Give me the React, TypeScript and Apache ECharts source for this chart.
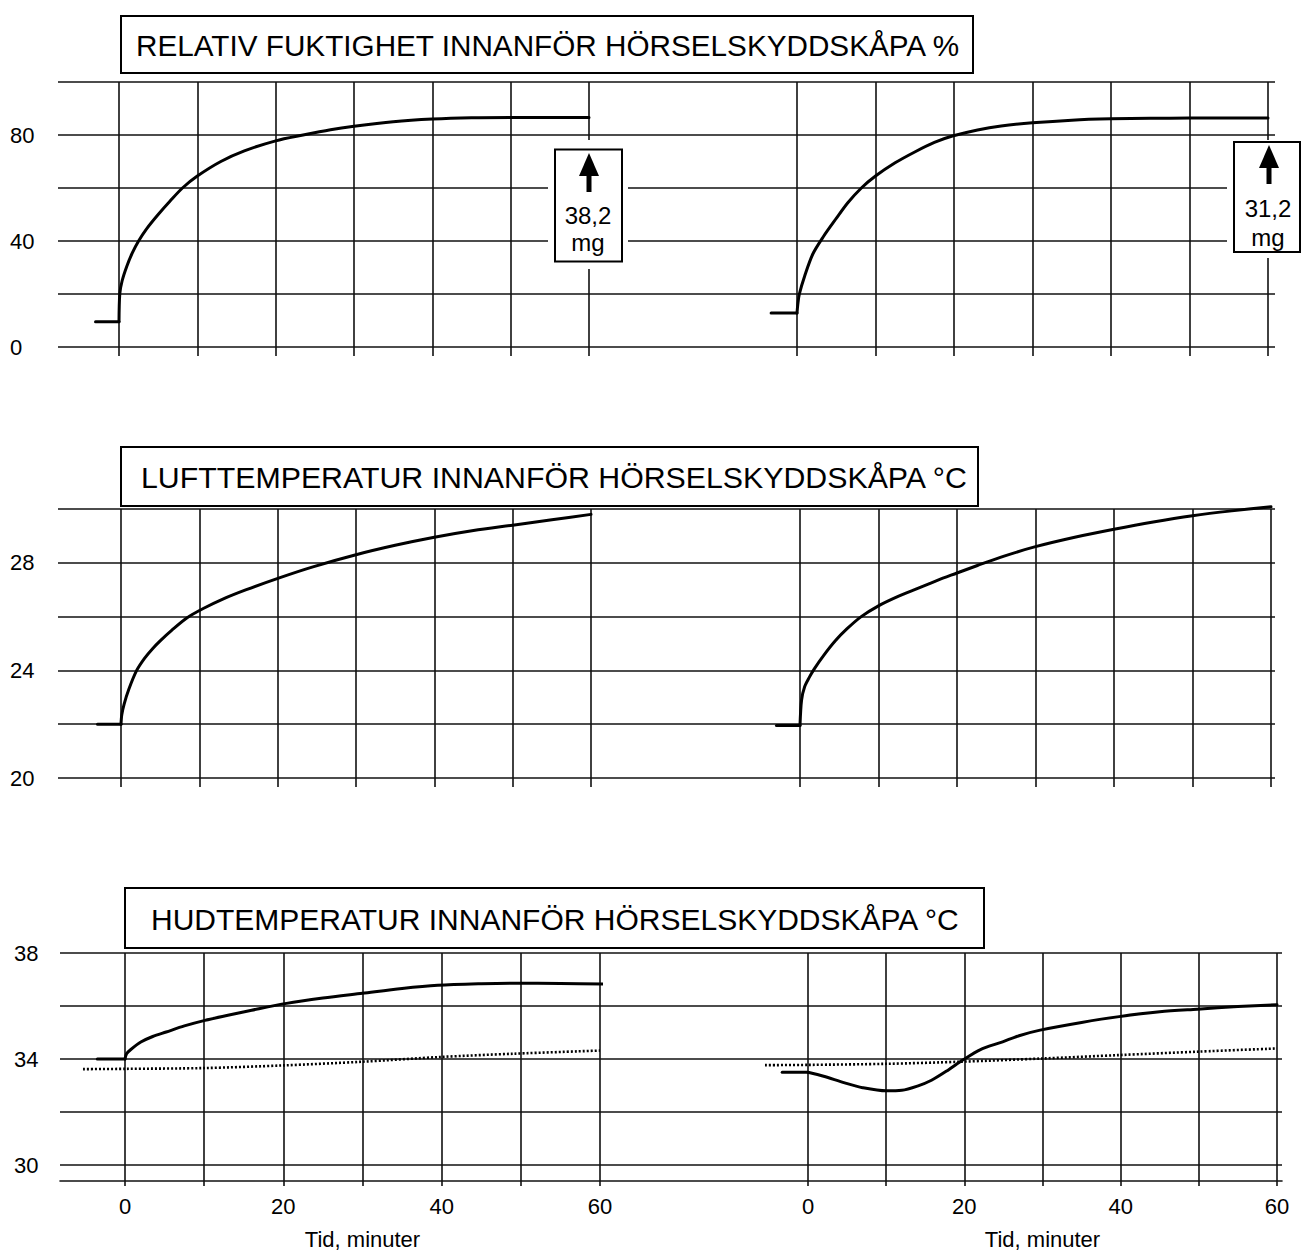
import React, { useEffect, useRef } from "react";
import * as echarts from "echarts";

// ---------- DATA ----------
const titles = [
  "RELATIV FUKTIGHET INNANFÖR HÖRSELSKYDDSKÅPA %",
  "LUFTTEMPERATUR INNANFÖR HÖRSELSKYDDSKÅPA °C",
  "HUDTEMPERATUR INNANFÖR HÖRSELSKYDDSKÅPA °C",
];
const xTicks = [0, 10, 20, 30, 40, 50, 60];
const xAxisName = "Tid, minuter";
const massLeft = ["38,2", "mg"];
const massRight = ["31,2", "mg"];

// Panel 1: relative humidity (%)
const rhLeftPreT = [-3, 0];
const rhLeftPreV = [9.5, 9.5];
const rhLeftT = [0, 0.1, 0.4, 1, 1.7, 2.5, 3.5, 5, 6.5, 8.1, 10, 13, 16, 20, 23.5, 27, 30, 35, 40, 45, 50, 55, 60];
const rhLeftV = [9.5, 20, 25, 30.5, 35.5, 40, 44.5, 50, 55, 60, 64.5, 70, 74, 77.8, 80, 82, 83.3, 85, 86, 86.5, 86.6, 86.6, 86.6];
const rhRightPreT = [-3.3, 0];
const rhRightPreV = [12.8, 12.8];
const rhRightT = [0, 0.1, 0.3, 1, 2, 3.35, 5, 6.5, 8.2, 10, 12.5, 15, 17.5, 19.8, 23, 26, 30, 35, 40, 45, 50, 55, 60];
const rhRightV = [12.8, 16, 20, 27, 35, 41.6, 48.5, 54.5, 60, 64.5, 69.5, 73.6, 77.2, 79.6, 81.9, 83.4, 84.6, 85.6, 86.1, 86.3, 86.4, 86.4, 86.4];

// Panel 2: air temperature (°C)
const airLeftPreT = [-3, 0];
const airLeftPreV = [22, 22];
const airLeftT = [0, 0.1, 0.4, 1, 2, 3, 4, 5, 6.5, 8.4, 10.5, 13, 16, 20.3, 24.5, 30, 35, 40, 45, 50, 55, 60];
const airLeftV = [22, 22.35, 22.75, 23.3, 24.0, 24.45, 24.8, 25.1, 25.5, 25.95, 26.3, 26.65, 27.0, 27.45, 27.85, 28.3, 28.65, 28.95, 29.2, 29.4, 29.6, 29.8];
const airRightPreT = [-3, 0];
const airRightPreV = [21.95, 21.95];
const airRightT = [0, 0.2, 0.6, 1.2, 1.8, 3, 4.5, 6, 7.8, 10, 12.5, 15, 17.5, 20, 22.6, 26, 30, 35, 40, 45, 50, 55, 60];
const airRightV = [21.95, 22.9, 23.4, 23.75, 24.05, 24.55, 25.1, 25.55, 26.0, 26.4, 26.75, 27.05, 27.35, 27.62, 27.9, 28.25, 28.6, 28.95, 29.25, 29.52, 29.75, 29.93, 30.08];

// Panel 3: skin temperature (°C), solid and dotted
const skinLeftPreT = [-3.5, 0];
const skinLeftPreV = [34.0, 34.0];
const skinLeftT = [0, 0.2, 0.7, 2, 3.5, 5.2, 7.5, 10.1, 13, 16, 20.4, 25, 30, 35, 39.5, 45, 49.2, 55, 60.5];
const skinLeftV = [34.0, 34.2, 34.35, 34.64, 34.85, 35.02, 35.25, 35.46, 35.65, 35.84, 36.1, 36.3, 36.48, 36.66, 36.78, 36.84, 36.86, 36.85, 36.83];
const skinLeftDotT = [-5.3, 0, 10, 20, 30, 40, 49, 60];
const skinLeftDotV = [33.62, 33.63, 33.66, 33.76, 33.9, 34.08, 34.2, 34.32];
const skinRightPreT = [-3.3, 0];
const skinRightPreV = [33.5, 33.5];
const skinRightT = [0, 2, 4.7, 7, 10, 12, 14, 15.8, 18, 19.8, 22, 24.9, 27, 29.7, 35, 39.8, 45, 49.8, 55, 60];
const skinRightV = [33.5, 33.35, 33.1, 32.92, 32.8, 32.82, 32.98, 33.2, 33.6, 33.96, 34.35, 34.65, 34.88, 35.09, 35.38, 35.6, 35.78, 35.88, 35.98, 36.05];
const skinRightDotT = [-5.5, 0, 10, 19.6, 30, 39.8, 50, 60];
const skinRightDotV = [33.77, 33.78, 33.82, 33.9, 34.02, 34.15, 34.28, 34.4];

// ---------- LAYOUT ----------
const FONT = '"Liberation Sans", Arial, Helvetica, sans-serif';
const panels = [
  { top: 82, bottom: 347, bgLeft: 58, bgRight: 1275, yMin: 0, yMax: 100, yInt: 20, labelX: 10,
    showLabel: (v: number) => v % 40 === 0, L: [119, 589], R: [797, 1268], subBottom: 347, subMin: 0, xLabels: false },
  { top: 509, bottom: 778, bgLeft: 58, bgRight: 1275, yMin: 20, yMax: 30, yInt: 2, labelX: 10,
    showLabel: (v: number) => (v - 20) % 4 === 0, L: [121, 591], R: [800, 1271], subBottom: 778, subMin: 20, xLabels: false },
  { top: 953, bottom: 1165, bgLeft: 60, bgRight: 1282, yMin: 30, yMax: 38, yInt: 2, labelX: 14,
    showLabel: (v: number) => (v - 30) % 4 === 0, L: [125, 600], R: [808, 1277], subBottom: 1181, subMin: 29.4, xLabels: true },
];

const zip = (t: number[], v: number[]) => t.map((x, i) => [x, v[i]]);

function buildOption() {
  const grid: any[] = [];
  const xAxis: any[] = [];
  const yAxis: any[] = [];
  const series: any[] = [];
  const lineCol = "#111";
  const dataGrid: number[][] = [];

  panels.forEach((p, pi) => {
    grid.push({ left: p.bgLeft, width: p.bgRight - p.bgLeft, top: p.top, height: p.bottom - p.top });
    const gi = grid.length - 1;
    xAxis.push({
      gridIndex: gi, type: "value", min: 0, max: 1, position: "bottom",
      axisLine: { show: pi === 2, onZero: false, lineStyle: { color: lineCol, width: 1.6 } },
      offset: pi === 2 ? p.subBottom - p.bottom : 0,
      axisTick: { show: false }, axisLabel: { show: false }, splitLine: { show: false },
    });
    yAxis.push({
      gridIndex: gi, type: "value", min: p.yMin, max: p.yMax, interval: p.yInt,
      axisLine: { show: false }, axisTick: { show: false },
      splitLine: { show: true, lineStyle: { color: lineCol, width: 1.6 } },
      axisLabel: {
        show: true, align: "left", margin: p.bgLeft - p.labelX, color: "#000",
        fontSize: 22, fontFamily: FONT, padding: [4, 0, 0, 0],
        formatter: (v: number) => (p.showLabel(v) ? String(v) : ""),
      },
    });
    dataGrid.push([]);
    [p.L, p.R].forEach((xr) => {
      grid.push({ left: xr[0], width: xr[1] - xr[0], top: p.top, height: p.subBottom - p.top });
      const g = grid.length - 1;
      xAxis.push({
        gridIndex: g, type: "value", min: 0, max: 60, interval: 10,
        axisLine: { show: false, onZero: false },
        axisTick: { show: true, length: p.xLabels ? 5 : 9, lineStyle: { color: lineCol, width: 1.6 } },
        splitLine: { show: true, lineStyle: { color: lineCol, width: 1.6 } },
        axisLabel: {
          show: p.xLabels, margin: 14, color: "#000", fontSize: 22, fontFamily: FONT,
          formatter: (v: number) => (xTicks.includes(v) && v % 20 === 0 ? String(v) : ""),
        },
        name: p.xLabels ? xAxisName : "",
        nameLocation: "middle", nameGap: 47,
        nameTextStyle: { color: "#000", fontSize: 22, fontFamily: FONT },
      });
      yAxis.push({
        gridIndex: g, type: "value", min: p.subMin, max: p.yMax, show: false,
        splitLine: { show: false },
      });
      const ppm = (xr[1] - xr[0]) / 60;
      grid.push({ left: xr[0] - 10 * ppm, width: 70 * ppm, top: p.top, height: p.subBottom - p.top });
      const dg = grid.length - 1;
      xAxis.push({ gridIndex: dg, type: "value", min: -10, max: 60, show: false, splitLine: { show: false } });
      yAxis.push({ gridIndex: dg, type: "value", min: p.subMin, max: p.yMax, show: false, splitLine: { show: false } });
      dataGrid[pi].push(dg);
    });
  });

  const addLine = (idx: number, t: number[], v: number[], opts: { dotted?: boolean; smooth?: boolean } = {}) => {
    series.push({
      type: "line", xAxisIndex: idx, yAxisIndex: idx, data: zip(t, v),
      symbol: "none", showSymbol: false, clip: false, z: 5,
      smooth: opts.smooth ? 0.3 : false,
      lineStyle: opts.dotted
        ? { color: "#000", width: 2.6, type: [2, 2], cap: "butt" }
        : { color: "#000", width: 3, cap: "round", join: "round" },
    });
  };
  addLine(dataGrid[0][0], rhLeftPreT, rhLeftPreV);
  addLine(dataGrid[0][0], rhLeftT, rhLeftV, { smooth: true });
  addLine(dataGrid[0][1], rhRightPreT, rhRightPreV);
  addLine(dataGrid[0][1], rhRightT, rhRightV, { smooth: true });
  addLine(dataGrid[1][0], airLeftPreT, airLeftPreV);
  addLine(dataGrid[1][0], airLeftT, airLeftV, { smooth: true });
  addLine(dataGrid[1][1], airRightPreT, airRightPreV);
  addLine(dataGrid[1][1], airRightT, airRightV, { smooth: true });
  addLine(dataGrid[2][0], skinLeftPreT, skinLeftPreV);
  addLine(dataGrid[2][0], skinLeftT, skinLeftV, { smooth: true });
  addLine(dataGrid[2][0], skinLeftDotT, skinLeftDotV, { dotted: true, smooth: true });
  addLine(dataGrid[2][1], skinRightPreT, skinRightPreV);
  addLine(dataGrid[2][1], skinRightT, skinRightV, { smooth: true });
  addLine(dataGrid[2][1], skinRightDotT, skinRightDotV, { dotted: true, smooth: true });

  const titleBoxes = [
    { x: 121, y: 16, w: 852, h: 57 },
    { x: 121, y: 447, w: 857, h: 59 },
    { x: 125, y: 888, w: 859, h: 60 },
  ];
  const textStart = [136, 141, 151];
  const titleSize = [29.7, 30.3, 30.0];
  const graphic: any[] = [];
  titleBoxes.forEach((b, i) => {
    graphic.push({
      type: "rect", z: 100, shape: { x: b.x, y: b.y, width: b.w, height: b.h },
      style: { fill: "#fff", stroke: "#000", lineWidth: 2 },
    });
    graphic.push({
      type: "text", z: 101, x: textStart[i], y: b.y + b.h / 2 + 1,
      style: { text: titles[i], fill: "#000", fontSize: titleSize[i], fontFamily: FONT, textAlign: "left", textVerticalAlign: "middle" },
    });
  });

  const annot = (cover: number[], box: number[], cx: number, tipY: number, txt: string[], ty: number[]) => {
    graphic.push({ type: "rect", z: 100, shape: { x: cover[0], y: cover[1], width: cover[2], height: cover[3] }, style: { fill: "#fff" } });
    graphic.push({ type: "rect", z: 101, shape: { x: box[0], y: box[1], width: box[2], height: box[3] }, style: { fill: "#fff", stroke: "#000", lineWidth: 2 } });
    graphic.push({ type: "polygon", z: 102, shape: { points: [[cx, tipY], [cx - 10, tipY + 23], [cx + 10, tipY + 23]] }, style: { fill: "#000" } });
    graphic.push({ type: "rect", z: 102, shape: { x: cx - 2.5, y: tipY + 20, width: 5, height: 19 }, style: { fill: "#000" } });
    txt.forEach((t, i) => {
      graphic.push({
        type: "text", z: 102, x: cx - 1, y: ty[i],
        style: { text: t, fill: "#000", fontSize: 24, fontFamily: FONT, textAlign: "center", textVerticalAlign: "middle" },
      });
    });
  };
  annot([548, 140, 80, 129], [555, 149.5, 67, 112], 589, 153, massLeft, [215, 242]);
  annot([1227, 140, 75, 118], [1234, 142, 66, 110], 1269, 145, massRight, [208, 237]);

  return {
    animation: false,
    backgroundColor: "#fff",
    grid, xAxis, yAxis, series, graphic,
  };
}

export default function App() {
  const ref = useRef<HTMLDivElement>(null);
  useEffect(() => {
    if (!ref.current) return;
    const chart = echarts.init(ref.current, null, { renderer: "svg" });
    chart.setOption(buildOption() as any);
    return () => chart.dispose();
  }, []);
  return (
    <div
      ref={ref}
      style={{ position: "fixed", left: 0, top: 0, width: 1302, height: 1254, background: "#fff" }}
    />
  );
}
